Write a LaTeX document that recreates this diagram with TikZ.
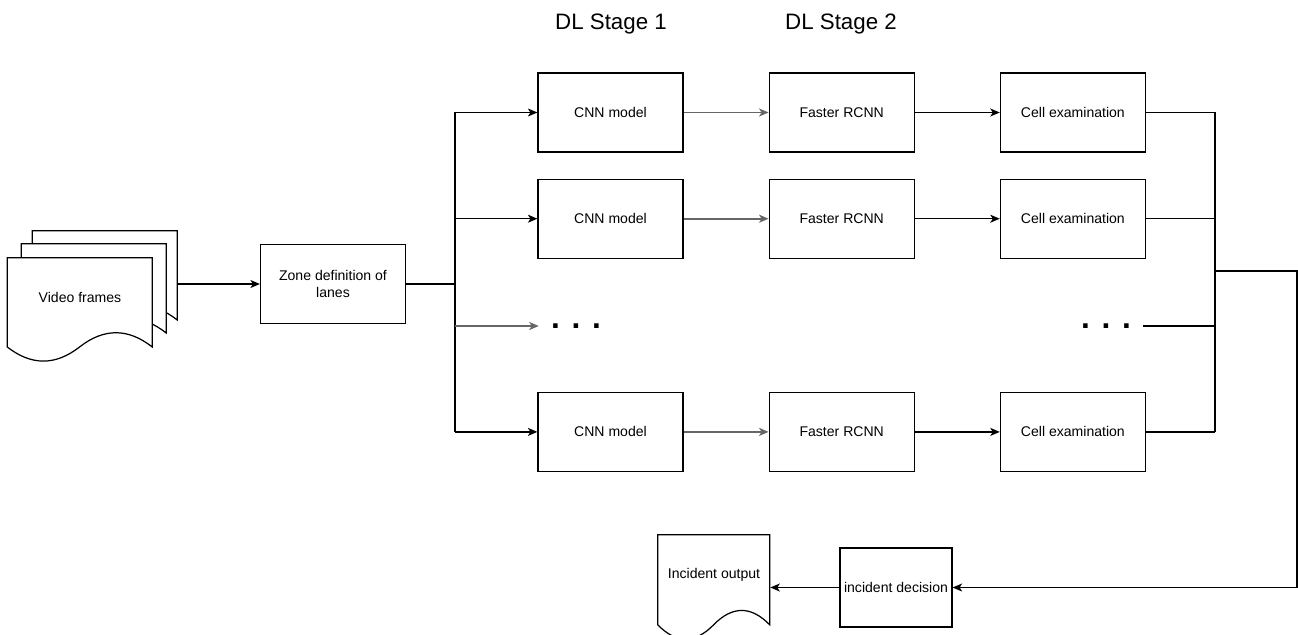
\documentclass[tikz,border=0pt]{standalone}
\usepackage{fontspec}
\setmainfont{Liberation Sans}
\usetikzlibrary{arrows.meta, positioning, backgrounds}

% document outline with a wavy foot; #1 places its top left corner
\newcommand{\docshape}[3]{%
  \begin{scope}[#1]
    \filldraw[fill=white, line width=0.7pt] (0,0) -- (#2,0) -- (#2,{0.85*#3})
      .. controls ({5*#2/6},{0.67*#3}) and ({2*#2/3},{0.67*#3}) .. ({#2/2},{0.85*#3})
      .. controls ({#2/3},{1.03*#3}) and ({#2/6},{1.03*#3}) .. (0,{0.85*#3}) -- cycle;
  \end{scope}}

\begin{document}
\begin{tikzpicture}[x=0.02cm, y=-0.02cm,
    procbox/.style={draw, line width=0.7pt, minimum width=2.9cm, minimum height=1.58cm,
                    align=center, font=\fontsize{8}{10}\selectfont, inner sep=2pt},
    doctext/.style={minimum width=2.9cm, minimum height=1.56cm, align=center,
                    font=\fontsize{8}{10}\selectfont, inner sep=0pt},
    stagetitle/.style={font=\fontsize{12.7}{15}\selectfont},
    dotsnode/.style={font=\fontsize{18}{18}\selectfont\bfseries, inner xsep=0.24cm, inner ysep=0pt},
    link/.style={line width=0.7pt},
    flow/.style={-{Stealth[length=1.9mm, width=1.6mm, inset=0.5mm]}, line width=0.7pt},
    greyflow/.style={flow, draw=black!60, line width=1pt}]

    \useasboundingbox (0,0) rectangle (1298,635);

    % Input frames and zoning
    \node[doctext] (vf) at (80,297) {Video frames};
    \node[procbox] (zone) at (333,284) {Zone definition of\\lanes};
    \coordinate (stackR) at (177,284);
    \coordinate (split) at (455,284);

    % Lane pipelines
    \node[procbox] (cnn1) at (610.5,112.5) {CNN model};
    \node[procbox, right=1.7cm of cnn1] (frc1) {Faster RCNN};
    \node[procbox, right=1.7cm of frc1] (cell1) {Cell examination};

    \node[procbox, below=0.52cm of cnn1] (cnn2) {CNN model};
    \node[procbox, right=1.7cm of cnn2] (frc2) {Faster RCNN};
    \node[procbox, right=1.7cm of frc2] (cell2) {Cell examination};

    \node[procbox, below=2.66cm of cnn2] (cnn4) {CNN model};
    \node[procbox, right=1.7cm of cnn4] (frc4) {Faster RCNN};
    \node[procbox, right=1.7cm of frc4] (cell4) {Cell examination};

    \node[dotsnode] (dotsL) at (576,326) {. . .};
    \node[dotsnode] (dotsR) at (1106,326) {. . .};

    % Stage titles
    \node[stagetitle] (stage1) at (611,24) {DL Stage 1};
    \node[stagetitle] (stage2) at (841,24) {DL Stage 2};

    % Decision and output
    \node[procbox, minimum width=2.24cm] (decide) at (896,587.5) {incident decision};
    \node[doctext, minimum width=2.24cm, minimum height=1.6cm] (incout) at (714,575) {Incident output};
    \coordinate (merge) at (1215,271);
    \coordinate (edge) at (1297,271);

    % Document outlines behind the texts
    \begin{scope}[on background layer]
        \docshape{shift={(vf.north west)}, shift={(25,-27)}}{145}{105}
        \docshape{shift={(vf.north west)}, shift={(14,-14)}}{145}{105}
        \docshape{shift={(vf.north west)}}{145}{105}
        \docshape{shift={(incout.north west)}}{112}{106}
    \end{scope}

    % Fan out to the lanes
    \draw[flow] (stackR) -- (zone);
    \draw[link] (zone.east) -- (split);
    \draw[link] (split |- cnn1.west) -- (split |- cnn4.west);
    \foreach \lane in {cnn1, cnn2, cnn4}
        \draw[flow] (split |- \lane.west) -- (\lane);
    \draw[greyflow] (split |- dotsL) -- (dotsL.west);

    % Along each lane
    \foreach \k in {1, 2, 4} {
        \draw[greyflow] (cnn\k) -- (frc\k);
        \draw[flow] (frc\k) -- (cell\k);
        \draw[link] (cell\k.east) -- (cell\k -| merge);
    }
    \draw[link] (dotsR.east) -- (dotsR -| merge);

    % Collect and decide
    \draw[link] (merge |- cell1.east) -- (merge |- cell4.east);
    \draw[flow] (merge) -- (edge) |- (decide);
    \draw[flow] (decide) -- (decide.west -| incout.east);
\end{tikzpicture}
\end{document}
